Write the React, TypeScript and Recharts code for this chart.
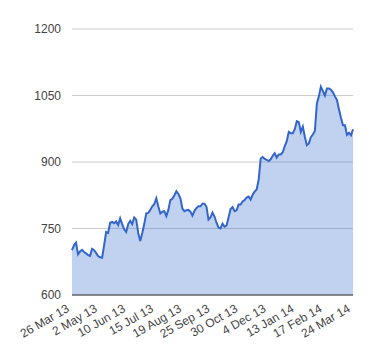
import React from "react";
import { AreaChart, Area, CartesianGrid, XAxis, YAxis } from "recharts";

// tick labels, one every 14 points
const tickLabels = [
  "26 Mar 13", "2 May 13", "10 Jun 13", "15 Jul 13", "19 Aug 13", "25 Sep 13",
  "30 Oct 13", "4 Dec 13", "13 Jan 14", "17 Feb 14", "24 Mar 14",
];
const tickEvery = 14;
const yTicks = [600, 750, 900, 1050, 1200];

// values, evenly spaced
const prices = [
  701, 712, 718, 692, 698, 702, 697, 694, 690, 688,
  704, 701, 695, 688, 685, 684, 712, 742, 740, 763,
  765, 762, 766, 758, 773, 760, 748, 742, 760, 767,
  760, 775, 770, 740, 722, 740, 760, 784, 785, 792,
  800, 805, 818, 800, 784, 788, 789, 778, 792, 814,
  817, 825, 834, 828, 818, 795, 789, 791, 792, 788,
  779, 790, 796, 800, 800, 806, 806, 799, 770, 775,
  786, 777, 763, 752, 750, 761, 754, 757, 775, 794,
  798, 789, 791, 804, 804, 811, 814, 820, 822, 815,
  826, 833, 838, 860, 908, 911, 907, 905, 902, 906,
  914, 920, 910, 917, 917, 922, 936, 947, 968, 965,
  965, 974, 992, 990, 968, 980, 957, 938, 942, 956,
  962, 970, 1032, 1048, 1070, 1060, 1050, 1066, 1066, 1063,
  1057, 1048, 1040, 1019, 1000, 983, 983, 961, 966, 960,
  974,
];

const data = prices.map((v, i) => ({ i, v }));
const xTicks = tickLabels.map((_, k) => k * tickEvery);
const font = "'Liberation Sans', Arial, sans-serif";

const AngledTick = (props: any) => {
  const { x, y, payload } = props;
  const tx = x - 2;
  return (
    <text
      x={tx}
      y={y}
      textAnchor="end"
      transform={`rotate(-30, ${tx}, ${y})`}
      fontSize={12}
      fill="#444"
      fontFamily={font}
    >
      {tickLabels[Math.round(payload.value / tickEvery)]}
    </text>
  );
};

const App = () => (
  <div style={{ position: "absolute", left: 0, top: 0 }}>
    <AreaChart
      width={380}
      height={360}
      data={data}
      margin={{ top: 29, right: 27, left: 0, bottom: 0 }}
    >
      <CartesianGrid vertical={false} stroke="#ccc" />
      <XAxis
        dataKey="i"
        type="number"
        domain={[0, prices.length - 1]}
        ticks={xTicks}
        interval={0}
        height={65}
        tickSize={0}
        tickMargin={16}
        tickLine={false}
        axisLine={{ stroke: "#333", strokeWidth: 1 }}
        tick={<AngledTick />}
      />
      <YAxis
        domain={[600, 1200]}
        ticks={yTicks}
        width={72}
        tickSize={0}
        tickMargin={11}
        tickLine={false}
        axisLine={false}
        tick={{ fontSize: 12, fill: "#444", fontFamily: font }}
      />
      <Area
        type="linear"
        dataKey="v"
        stroke="#3366cc"
        strokeWidth={2}
        fill="#3366cc"
        fillOpacity={0.3}
        dot={false}
        activeDot={false}
        isAnimationActive={false}
      />
    </AreaChart>
  </div>
);

export default App;
